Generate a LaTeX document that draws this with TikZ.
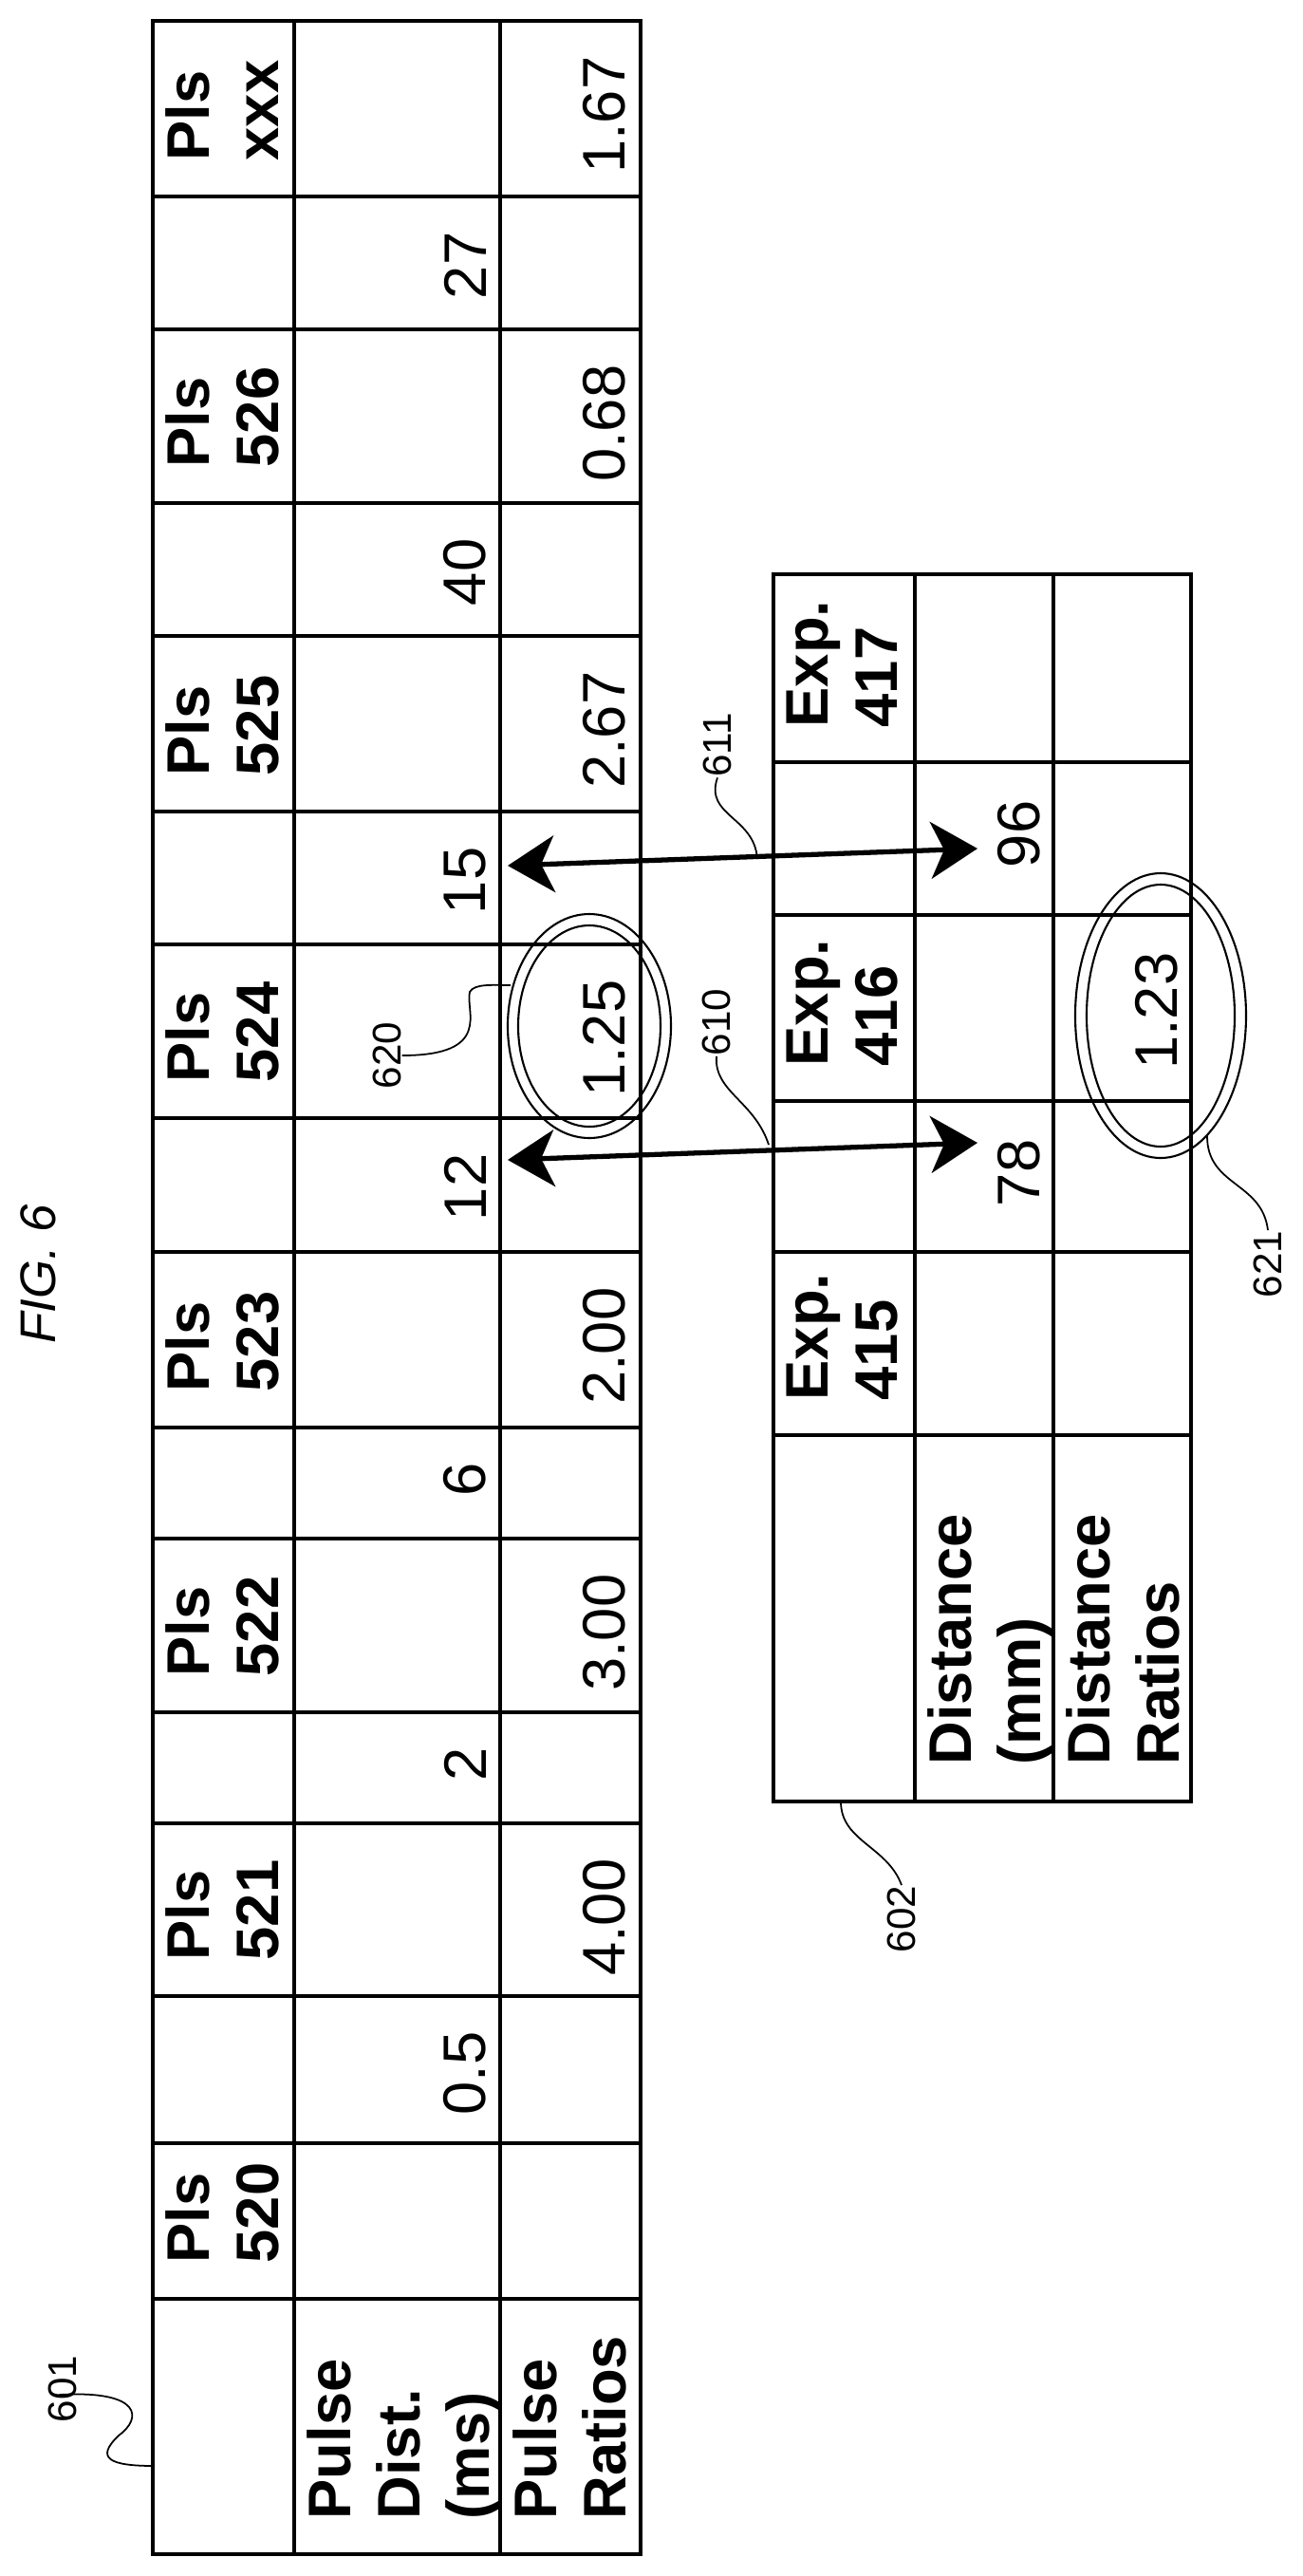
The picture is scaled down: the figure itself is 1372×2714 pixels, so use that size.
\documentclass[tikz,border=0pt]{standalone}
\usepackage{fontspec}
\setmainfont{Liberation Sans}
\usetikzlibrary{arrows.meta}
\tikzset{
  grid/.style={line width=0.9pt},
  hdr/.style={rotate=90, anchor=north west, inner sep=0pt, align=left,
    font=\fontsize{18}{20.7}\selectfont\bfseries},
  num/.style={rotate=90, anchor=south east, inner sep=0pt,
    font=\fontsize{18}{20.7}\selectfont},
  ref/.style={rotate=90, inner sep=0pt, font=\fontsize{12}{14}\selectfont},
  lead/.style={line width=0.5pt},
  ring/.style={line width=0.6pt},
  twoway/.style={line width=1.5pt,
    {Stealth[length=14pt,width=17pt,inset=4pt]}-{Stealth[length=14pt,width=17pt,inset=4pt]}}
}
\begin{document}
\begin{tikzpicture}[x=0.01cm, y=-0.01cm]
  \useasboundingbox (0,0) rectangle (1372,2714);

  % title
  \node[ref, font=\fontsize{15}{17}\selectfont\itshape] (fig) at (40,1342) {FIG. 6};

  % table 601
  \draw[grid] (161,22) rectangle (675,2691);
  \draw[grid] (310,22) -- (310,2691) (527,22) -- (527,2691);
  \foreach \c in {207,347,530,670,855,995,1178,1319,1504,1621,1804,1921,2103,2258,2422}
    \draw[grid] (161,\c) -- (675,\c);
  \foreach \b/\t in {207/xxx,530/526,855/525,1178/524,1504/523,1804/522,2103/521,2422/520}
    \node[hdr] (pls\t) at (174,\b-37) {Pls\\\t};
  \node[hdr] (pdist) at (323,2655) {Pulse\\Dist.\\(ms)};
  \node[hdr] (pratio) at (540,2655) {Pulse\\Ratios};
  \foreach \t/\v/\n in {207/27/a,530/40/b,855/15/c,1178/12/d,1504/6/e,1804/2/f,2103/0.5/g}
    \node[num] (d\n) at (513,\t+37) {\v};
  \foreach \t/\v/\n in {22/1.67/a,347/0.68/b,670/2.67/c,995/1.25/d,1319/2.00/e,1621/3.00/f,1921/4.00/g}
    \node[num] (r\n) at (660,\t+37) {\v};

  % table 602
  \draw[grid] (815,605) rectangle (1255,1898);
  \draw[grid] (964,605) -- (964,1898) (1110,605) -- (1110,1898);
  \foreach \c in {803,964,1160,1319,1512}
    \draw[grid] (815,\c) -- (1255,\c);
  \foreach \b/\t in {803/417,1160/416,1512/415}
    \node[hdr] (exp\t) at (828,\b-36) {Exp.\\\t};
  \node[hdr] (ddist) at (977,1860) {Distance\\(mm)};
  \node[hdr] (dratio) at (1123,1860) {Distance\\Ratios};
  \node[num] (m96) at (1097,843) {96};
  \node[num] (m78) at (1097,1200) {78};
  \node[num] (m123) at (1242,1003) {1.23};

  % rings
  \draw[ring] (621,1081) ellipse [x radius=86, y radius=118];
  \draw[ring] (621,1081) ellipse [x radius=75, y radius=106];
  \draw[ring] (1223,1070) ellipse [x radius=90, y radius=150];
  \draw[ring] (1223,1070) ellipse [x radius=78, y radius=138];

  % arrows
  \coordinate (t12) at (535,1222);
  \coordinate (t78) at (1030,1204);
  \coordinate (t15) at (535,912);
  \coordinate (t96) at (1030,894);
  \draw[twoway] (t12) -- (t78);
  \draw[twoway] (t15) -- (t96);

  % reference labels
  \node[ref] (l601) at (66,2517) {601};
  \coordinate (e601) at (163,2598);
  \draw[lead] (l601.north) ++(12,6) .. controls (150,2518) and (150,2548) .. (125,2566)
    .. controls (100,2590) and (115,2598) .. (e601);
  \node[ref] (l602) at (950,2022) {602};
  \coordinate (e602) at (886,1898);
  \draw[lead] (e602) .. controls (886,1940) and (935,1945) .. (l602.east);
  \node[ref] (l610) at (755,1077) {610};
  \coordinate (e610) at (810,1206);
  \draw[lead] (l610.west) .. controls (752,1150) and (795,1160) .. (e610);
  \node[ref] (l611) at (756,785) {611};
  \coordinate (e611) at (798,905);
  \draw[lead] (l611.west) .. controls (742,860) and (795,860) .. (e611);
  \node[ref] (l620) at (408,1112) {620};
  \coordinate (e620) at (538,1038);
  \draw[lead] (l620.south) .. controls (520,1112) and (490,1065) .. (495,1045)
    .. controls (500,1036) and (520,1038) .. (e620);
  \node[ref] (l621) at (1336,1332) {621};
  \coordinate (e621) at (1272,1197);
  \draw[lead] (e621) .. controls (1272,1250) and (1330,1245) .. (l621.east);
\end{tikzpicture}
\end{document}
